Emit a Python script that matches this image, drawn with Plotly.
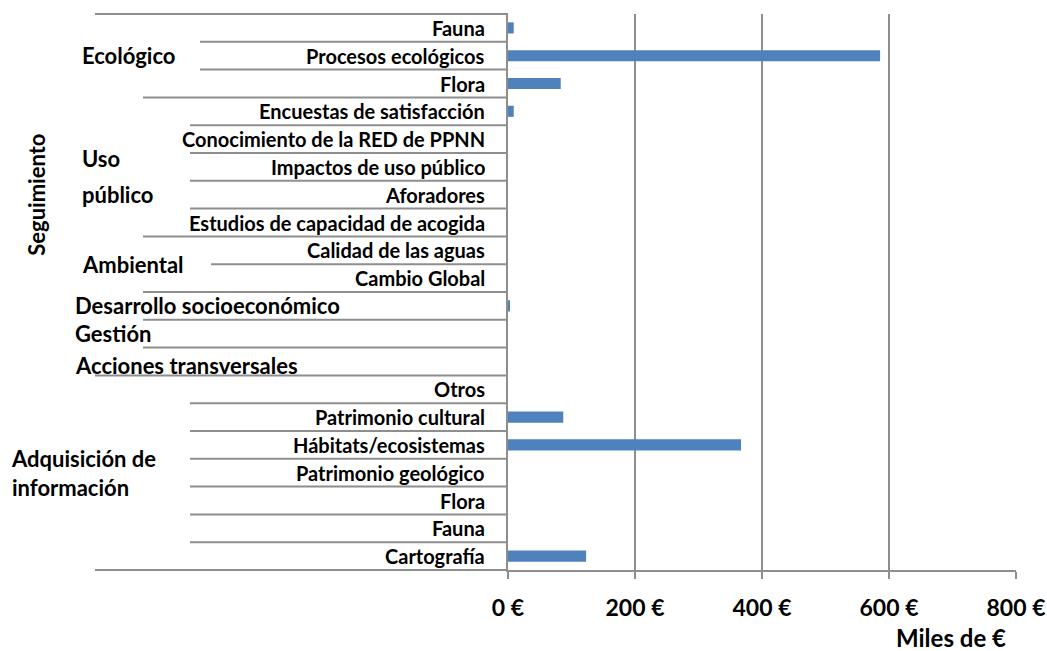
import plotly.graph_objects as go

# rows, top to bottom
leaf_labels = [
    "Fauna", "Procesos ecológicos", "Flora",
    "Encuestas de satisfacción", "Conocimiento de la RED de PPNN",
    "Impactos de uso público", "Aforadores", "Estudios de capacidad de acogida",
    "Calidad de las aguas", "Cambio Global",
    "", "", "",
    "Otros", "Patrimonio cultural", "Hábitats/ecosistemas",
    "Patrimonio geológico", "Flora", "Fauna", "Cartografía",
]
values = [9, 586, 83, 9, 0, 0, 0, 0, 0, 0, 3, 0, 0, 0, 87, 367, 0, 0, 0, 123]

# second level groups: (label, first row, last row)
groups2 = [
    ("Ecológico", 0, 2),
    ("Uso público", 3, 7),
    ("Ambiental", 8, 9),
    ("Desarrollo socioeconómico", 10, 10),
    ("Gestión", 11, 11),
    ("Acciones transversales", 12, 12),
]
# first level groups
groups1 = [("Seguimiento", 0, 12), ("Adquisición de<br>información", 13, 19)]

x_ticks = [0, 200, 400, 600, 800]
x_tick_labels = ["0 €", "200 €", "400 €", "600 €", "800 €"]

# layout in page pixels
W, H = 1047, 651
L, R, T, B = 508, 31, 14, 81
PW = W - L - R
GRID = "#8e8e8e"
BLUE = "#4f81bd"
FONT = "Lato"
n = len(values)


def px(x):
    return (x - L) / PW


def row_edge(i):
    # paper y of the boundary above row i (range is reversed)
    return 1 - i / n


def bold(size):
    return dict(size=size, family=FONT, weight="bold", color="black")


fig = go.Figure(
    go.Bar(
        x=values,
        y=list(range(n)),
        orientation="h",
        marker=dict(color=BLUE, line=dict(width=0)),
        width=0.4,
    )
)

# separator lines left of the axis
indent_sub = {"Ecológico": 200, "Uso público": 190, "Ambiental": 211}
edges = {}
for name, a, b in groups2:
    edges[a] = 143
    edges[b + 1] = 143
    for k in range(a + 1, b + 1):
        edges[k] = indent_sub[name]
name, a, b = groups1[1]
for k in range(a + 1, b + 1):
    edges[k] = 190
for name, a, b in groups1:
    edges[a] = 95
    edges[b + 1] = 95
for k, left in edges.items():
    fig.add_shape(
        type="line", xref="paper", yref="paper",
        x0=px(left), x1=0, y0=row_edge(k), y1=row_edge(k),
        line=dict(color=GRID, width=2),
    )

annotations = []
for i, lab in enumerate(leaf_labels):
    if lab:
        annotations.append(dict(
            text=lab, x=0, xshift=-21, xanchor="right", xref="paper",
            y=i, yref="y", showarrow=False, font=bold(20),
        ))

for name, a, b in groups2:
    mid = (a + b) / 2
    left = 80 if b > a else 73
    if name == "Uso público":
        for j, part in enumerate(name.split(" ")):
            annotations.append(dict(
                text=part, x=px(left), xanchor="left", xref="paper",
                y=mid, yref="y", yshift=8 - 36 * j, showarrow=False,
                font=bold(22),
            ))
        continue
    annotations.append(dict(
        text=name, x=px(left), xanchor="left", xref="paper",
        y=mid, yref="y", yshift=-4 if a == 12 else 0, showarrow=False,
        font=bold(22),
    ))

name, a, b = groups1[0]
annotations.append(dict(
    text=name, x=px(37), xanchor="center", xref="paper",
    y=(a + b) / 2, yref="y", textangle=-90, showarrow=False, font=bold(22),
))
name, a, b = groups1[1]
annotations.append(dict(
    text=name, x=px(9), xanchor="left", align="left", xref="paper",
    y=(a + b) / 2, yref="y", showarrow=False, font=bold(22),
))
annotations.append(dict(
    text="Miles de €", x=px(951), xanchor="center", xref="paper",
    y=0, yref="paper", yanchor="bottom", yshift=-84, showarrow=False,
    font=bold(24),
))

fig.update_layout(
    width=W, height=H,
    margin=dict(l=L, r=R, t=T, b=B),
    plot_bgcolor="white", paper_bgcolor="white",
    showlegend=False,
    annotations=annotations,
    font=dict(family=FONT, color="black"),
)
fig.update_xaxes(
    range=[0, 800], tickvals=x_ticks, ticktext=x_tick_labels,
    showgrid=True, gridcolor=GRID, gridwidth=2,
    showline=True, linecolor=GRID, linewidth=2,
    ticks="outside", ticklen=7, tickcolor=GRID, tickwidth=2,
    ticklabelstandoff=9,
    tickfont=bold(23),
    zeroline=False, automargin=False,
)
fig.update_yaxes(
    range=[n - 0.5, -0.5], showticklabels=False, showgrid=False,
    showline=True, linecolor=GRID, linewidth=2, zeroline=False,
    automargin=False,
)

# drop the default page margin so the figure fills the window exactly
fig.write_html(
    "out.html",
    config={"displayModeBar": False},
    post_script="document.body.style.margin = '0'; document.body.style.overflow = 'hidden';",
)
